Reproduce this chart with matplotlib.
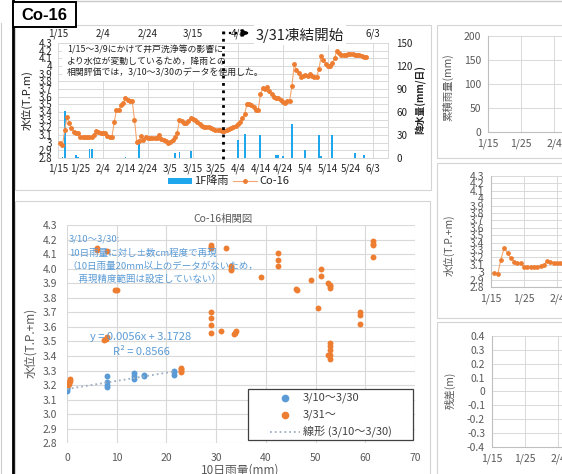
import matplotlib
matplotlib.use('Agg')
import matplotlib.pyplot as plt
import matplotlib.transforms as mtransforms
import numpy as np
import pandas as pd
from matplotlib.patches import Rectangle, FancyArrowPatch
from matplotlib.lines import Line2D
from matplotlib.ticker import FuncFormatter

plt.rcParams['font.family'] = ['Noto Sans CJK JP', 'DejaVu Sans']

# ---------------- data ----------------
base_date = '2016-01-15'
level_first_date = '2016-01-16'
co16_level = [2.99, 2.97, 3.17, 3.33, 3.26, 3.19, 3.14, 3.12, 3.12, 3.07,
              3.07, 3.07, 3.07, 3.07, 3.08, 3.10, 3.15, 3.14, 3.12, 3.12,
              3.12, 3.09, 3.08, 3.08, 3.27, 3.43, 3.43, 3.49, 3.52, 3.58,
              3.56, 3.55, 3.54, 3.30, 3.01, 3.02, 3.09, 3.04, 3.08, 3.06,
              3.06, 3.06, 3.06, 3.06, 3.10, 3.05, 3.04, 3.02, 3.00, 3.01,
              3.04, 3.07, 3.13, 3.29, 3.28, 3.26, 3.26, 3.28, 3.32, 3.31,
              3.29, 3.27, 3.25, 3.22, 3.21, 3.21, 3.20, 3.19, 3.18, 3.17,
              3.17, 3.16, 3.15, 3.15, 3.17, 3.18, 3.19, 3.21, 3.22, 3.24,
              3.27, 3.32, 3.38, 3.50, 3.50, 3.49, 3.47, 3.43, 3.43, 3.63,
              3.71, 3.70, 3.72, 3.68, 3.63, 3.59, 3.58, 3.58, 3.56, 3.53,
              3.52, 3.54, 3.55, 3.74, 4.02, 3.95, 3.91, 3.86, 3.87, 3.88,
              3.87, 3.90, 3.87, 3.86, 3.86, 3.96, 4.13, 4.08, 4.03, 4.00,
              4.00, 4.04, 4.11, 4.20, 4.17, 4.15, 4.15, 4.15, 4.16, 4.16,
              4.16, 4.15, 4.14, 4.14, 4.13, 4.12, 4.12]

rain_dates = ['2016-01-17', '2016-01-18', '2016-01-23', '2016-01-24', '2016-01-29',
              '2016-01-30', '2016-02-06', '2016-02-14', '2016-02-20', '2016-03-07',
              '2016-03-09', '2016-03-14', '2016-04-01', '2016-04-04', '2016-04-07',
              '2016-04-14', '2016-04-21', '2016-04-22', '2016-04-24', '2016-04-28',
              '2016-05-04', '2016-05-10', '2016-05-11', '2016-05-16', '2016-05-21',
              '2016-05-26', '2016-05-30']
rain_mm = [1, 61, 4, 1.5, 12, 12, 0.5, 1, 21, 7, 8, 9, 0.5, 23.5, 31, 30,
           3.5, 4, 3, 44, 11, 30.5, 3, 29.5, 0.5, 6.5, 4]

# top-axis date labels visible in the reference (others hidden behind the note)
top_tick_dates = ['2016-01-15', '2016-02-04', '2016-02-24', '2016-03-15', '2016-04-04', '2016-06-03']

blue_x = [0, 0, 0, 8, 8, 8, 8, 13.5, 13.5, 13.5, 15.5, 15.5, 21.5, 21.5, 21.5]
blue_y = [3.16, 3.17, 3.18, 3.26, 3.22, 3.20, 3.19, 3.28, 3.26, 3.24,
          3.27, 3.26, 3.30, 3.29, 3.27]

orange_x = [0.2, 0.4, 0.5, 0.6, 0.7, 6, 6, 8, 9.6, 10, 7.4, 7.8, 8,
            23, 23, 23, 23, 29, 29, 29, 29, 29, 29, 29, 31, 32, 33, 33, 33,
            33.5, 34, 33.8, 39, 42.4, 42.4, 42.4, 46, 46.2, 49, 50.5, 51, 51,
            52.5, 53, 53, 53, 52.5, 53, 53, 53, 53, 53, 59, 59, 59,
            61.5, 61.5, 61.5, 61.5]
orange_y = [3.20, 3.21, 3.22, 3.23, 3.24, 4.14, 4.13, 4.12, 3.85, 3.85, 3.51, 3.52, 3.53,
            3.32, 3.30, 3.29, 3.31, 4.16, 4.14, 4.15, 3.70, 3.66, 3.61, 3.56, 3.57, 4.14, 4.02, 4.00, 3.99,
            3.55, 3.57, 3.56, 3.94, 4.11, 4.06, 4.02, 3.86, 3.85, 3.92, 3.73, 4.00, 3.95,
            3.90, 3.89, 3.87, 3.88, 3.41, 3.49, 3.47, 3.44, 3.41, 3.38, 3.70, 3.68, 3.62,
            4.19, 4.17, 4.16, 4.08]

trend_slope = 0.0056
trend_intercept = 3.1728
trend_x = [0, 21.5]

# ---------------- helpers ----------------
W, H = 562, 474
fig = plt.figure(figsize=(W / 100, H / 100), dpi=100)
fig.patch.set_facecolor('white')

t0 = pd.Timestamp(base_date)
level_days = (pd.date_range(level_first_date, periods=len(co16_level)) - t0).days.values
rain_days = (pd.to_datetime(rain_dates) - t0).days.values
top_days = (pd.to_datetime(top_tick_dates) - t0).days.values


def date_label(v, pos=None):
    d = t0 + pd.Timedelta(days=int(round(v)))
    return f"{d.month}/{d.day}"


def gfmt(v):
    s = ('%.2f' % v).rstrip('0').rstrip('.')
    return '0' if s in ('-0', '') else s


def px_axes(l, t, r, b):
    return fig.add_axes([l / W, 1 - b / H, (r - l) / W, (b - t) / H])


def fxy(x, y):
    return (x / W, 1 - y / H)


def fig_rect(l, t, r, b, ec='#d4d4d4', fc='none', lw=0.8, z=-1):
    fig.add_artist(Rectangle(fxy(l, b), (r - l) / W, (b - t) / H,
                             transform=fig.transFigure, facecolor=fc,
                             edgecolor=ec, lw=lw, zorder=z))


def fig_line(xs, ys, **kw):
    fig.add_artist(Line2D([x / W for x in xs], [1 - y / H for y in ys],
                          transform=fig.transFigure, **kw))


def ftext(x, y, s, **kw):
    fig.text(x / W, 1 - y / H, s, **kw)


# ---------------- frames ----------------
fig_rect(15, 25, 431, 190)
fig_rect(15, 201, 430, 480)
fig_rect(437, 25, 570, 158)
fig_rect(437, 163, 570, 318)
fig_rect(437, 322, 570, 480)
fig_line([1, 1], [23, 474], color='#cccccc', lw=0.8, zorder=-1)
fig_line([76, 562], [1, 1], color='#c8c8c8', lw=1.0, zorder=-1)

# ---------------- top time-series chart ----------------
ax = px_axes(58, 43, 388, 158)
ax2 = ax.twinx()
ax.set_zorder(ax2.get_zorder() + 1)
ax.patch.set_visible(False)

yt = np.round(np.arange(2.8, 4.301, 0.1), 1)
blend = mtransforms.blended_transform_factory(ax2.transAxes, ax.transData)
blend_v = mtransforms.blended_transform_factory(ax.transData, ax2.transAxes)
for v in yt:
    ax2.add_line(Line2D([0, 1], [v, v], transform=blend, color='#d9d9d9', lw=0.7, zorder=0.5))
for d in range(0, 141, 20):
    ax2.add_line(Line2D([d, d], [0, 1], transform=blend_v, color='#d9d9d9', lw=0.7, zorder=0.5))

ax2.bar(rain_days, rain_mm, width=0.85, color='#1FA7EE', zorder=2)
ax2.set_ylim(0, 150)
ax2.set_yticks(range(0, 151, 30))

ax.plot(level_days, co16_level, color='#F5A66E', lw=0.8, marker='o', ms=2.5,
        mfc='#ED7D31', mec='#ED7D31', zorder=3)
ax.set_xlim(0, 146.7)
ax.set_ylim(2.8, 4.3)
ax.set_yticks(yt)
ax.set_yticklabels([gfmt(v) for v in yt])
ax.set_xticks(range(0, 141, 10))
ax.xaxis.set_major_formatter(FuncFormatter(date_label))
ax.tick_params(length=0, labelsize=7, labelcolor='#222222', pad=4)
ax2.tick_params(length=0, labelsize=7, labelcolor='#222222', pad=6)
for a in (ax, ax2):
    for s in a.spines.values():
        s.set_color('#d9d9d9')
        s.set_linewidth(0.7)

sec = ax.secondary_xaxis('top')
sec.set_xticks(top_days)
sec.xaxis.set_major_formatter(FuncFormatter(date_label))
sec.tick_params(length=0, labelsize=7, labelcolor='#222222', pad=3)
for s in sec.spines.values():
    s.set_visible(False)

ftext(27, 100, '水位(T.P.m)', rotation=90, ha='center', va='center', fontsize=8, color='#222222')
ftext(421, 100, '降水量(mm/日)', rotation=90, ha='center', va='center', fontsize=7,
      color='#222222', fontweight='bold')

# annotation box
fig_rect(62, 44, 224, 81, ec='none', fc='white', z=1)
for yy, s in [(50, '1/15～3/9にかけて井戸洗浄等の影響に'),
              (61.7, 'より水位が変動しているため，降雨との'),
              (73.3, '相関評価では，3/10～3/30のデータを使用した。')]:
    ftext(67, yy, s, ha='left', va='center', fontsize=6.4, color='#222222', zorder=3)

# freeze start marker
fig_line([223, 223], [31, 162], color='black', lw=2.0, ls=':', zorder=4)
fig_line([223, 247], [33, 33], color='black', lw=1.6, ls=':', zorder=4)
fig.add_artist(FancyArrowPatch(fxy(243, 33), fxy(252, 33), transform=fig.transFigure,
                               arrowstyle='->', mutation_scale=9, lw=1.8, color='black', zorder=5))
ftext(300, 35, '3/31凍結開始', ha='center', va='center', fontsize=10.5, color='#222222', zorder=4,
      bbox=dict(boxstyle='square,pad=0.15', fc='white', ec='none'))

# legend of top chart
fig_rect(168, 178, 192, 184, ec='none', fc='#1FA7EE', z=3)
ftext(194, 181, '1F降雨', ha='left', va='center', fontsize=8, color='#222222')
fig_line([233, 257], [181, 181], color='#F5A66E', lw=0.8, zorder=3)
fig_line([245], [181], color='#ED7D31', marker='o', ms=2.5, lw=0, zorder=3)
ftext(259, 181, 'Co-16', ha='left', va='center', fontsize=8, color='#222222')

# ---------------- scatter chart ----------------
axs = px_axes(67, 225, 415, 443.3)
axs.set_xlim(0, 70)
axs.set_ylim(2.8, 4.3)
axs.set_xticks(range(0, 71, 10))
axs.set_yticks(yt)
axs.set_yticklabels(['%.1f' % v for v in yt])
axs.grid(True, color='#d9d9d9', lw=0.8)
axs.set_axisbelow(True)
for s in axs.spines.values():
    s.set_visible(False)
axs.tick_params(length=0, labelsize=7.5, labelcolor='#595959', pad=7)
axs.scatter(blue_x, blue_y, s=18, color='#5B9BD5', zorder=3, linewidths=0)
axs.scatter(orange_x, orange_y, s=18, color='#ED7D31', zorder=3, linewidths=0)
tx = np.array(trend_x)
axs.plot(tx, trend_slope * tx + trend_intercept, ls=':', color='#9FAFC2', lw=1.3, zorder=4)

ftext(223, 219, 'Co-16相関図', ha='center', va='center', fontsize=7.5, color='#595959')
ftext(31, 343, '水位(T.P.+m)', rotation=90, ha='center', va='center', fontsize=8.5, color='#595959')
ftext(240, 470, '10日雨量(mm)', ha='center', va='center', fontsize=8.5, color='#595959')

blue_txt = '#5B9BD5'
ftext(69, 239, '3/10～3/30:', ha='left', va='center', fontsize=6.8, color=blue_txt)
ftext(69, 253, '10日雨量に対し±数cm程度で再現', ha='left', va='center', fontsize=6.8, color=blue_txt)
ftext(67, 266, '（10日雨量20mm以上のデータがないため，', ha='left', va='center', fontsize=6.8, color=blue_txt)
ftext(69, 279, '　再現精度範囲は設定していない）', ha='left', va='center', fontsize=6.8, color=blue_txt)
ftext(141, 337, 'y = 0.0056x + 3.1728', ha='center', va='center', fontsize=8, color=blue_txt)
ftext(141, 352, 'R² = 0.8566', ha='center', va='center', fontsize=8, color=blue_txt)

# legend box
fig_rect(248, 389, 413, 440, ec='#404040', fc='white', lw=0.9, z=2)
fig_line([285], [398], marker='o', ms=4.5, color='#5B9BD5', lw=0, zorder=3)
ftext(303, 398, '3/10～3/30', ha='left', va='center', fontsize=8, color='#404040')
fig_line([285], [415], marker='o', ms=4.5, color='#ED7D31', lw=0, zorder=3)
ftext(303, 415, '3/31～', ha='left', va='center', fontsize=8, color='#404040')
fig_line([270, 300], [432, 432], ls=':', color='#9FAFC2', lw=1.3, zorder=3)
ftext(303, 432, '線形 (3/10～3/30)', ha='left', va='center', fontsize=8, color='#404040')

# ---------------- right partial panels ----------------
def side_axes(l, t, b, ylim, yticks, labels):
    a = px_axes(l, t, 640, b)
    a.set_xlim(0, (640 - l) / 3.3)
    a.set_ylim(*ylim)
    a.set_xticks(range(0, 41, 10))
    a.xaxis.set_major_formatter(FuncFormatter(date_label))
    a.set_yticks(yticks)
    a.set_yticklabels(labels)
    a.grid(True, color='#d9d9d9', lw=0.7)
    a.set_axisbelow(True)
    for k, s in a.spines.items():
        s.set_visible(k in ('left', 'bottom'))
        s.set_color('#bfbfbf')
        s.set_linewidth(0.8)
    a.tick_params(length=0, labelsize=7.5, labelcolor='#595959', pad=5)
    return a

rA = side_axes(488, 36, 132, (0, 200), range(0, 201, 50), [str(v) for v in range(0, 201, 50)])
ftext(448, 87, '累積雨量(mm)', rotation=90, ha='center', va='center', fontsize=7.5, color='#595959')

rB = side_axes(491, 176, 287, (2.8, 4.3), yt, [gfmt(v) for v in yt])
rB.plot(level_days, co16_level, color='#F5A66E', lw=0.8, marker='o', ms=2.4,
        mfc='#ED7D31', mec='#ED7D31')
ftext(449, 245, '水位(T.P.+m)', rotation=90, ha='center', va='center', fontsize=7.5, color='#595959')

rt = np.round(np.arange(-0.4, 0.401, 0.1), 1)
rC = side_axes(492, 336, 446.7, (-0.4, 0.4), rt, [gfmt(v) for v in rt])
ftext(450, 390, '残差(m)', rotation=90, ha='center', va='center', fontsize=7.5, color='#595959')

# ---------------- outer decorations ----------------
fig_line([13.3, 13.3], [0, 474], color='black', lw=2.0, zorder=6)
fig_rect(13.3, 2, 76, 27, ec='black', fc='white', lw=1.4, z=6)
ftext(44.5, 15, 'Co-16', ha='center', va='center', fontsize=12, fontweight='bold',
      family='Liberation Sans', color='black', zorder=7)

fig.savefig('out.png', dpi=100)
